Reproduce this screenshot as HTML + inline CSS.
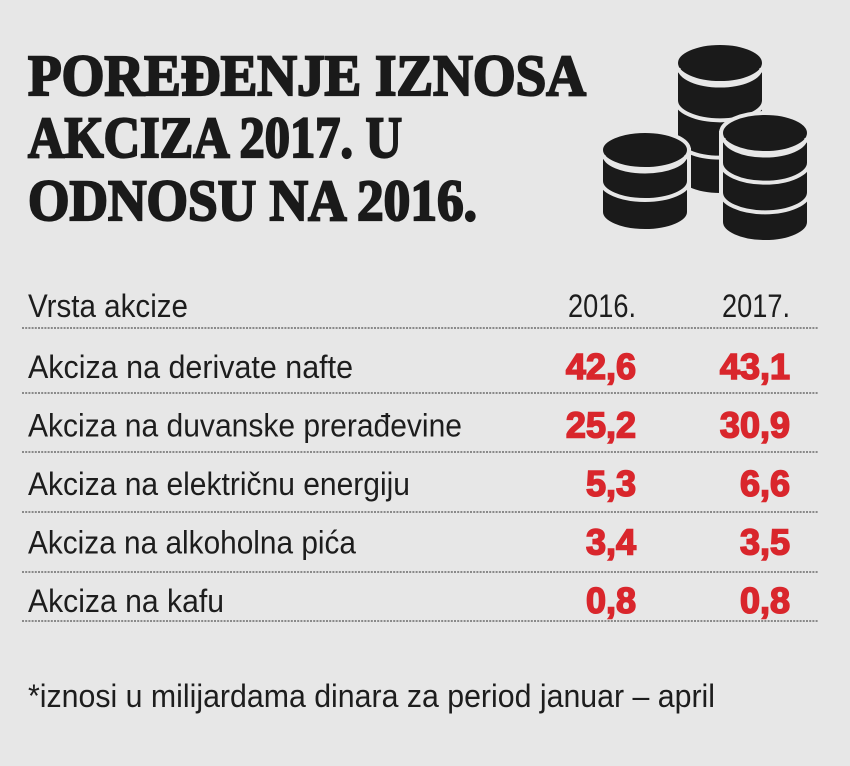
<!DOCTYPE html>
<html><head><meta charset="utf-8"><style>
html,body{margin:0;padding:0;background:#e7e7e7;}
svg{display:block;}
.t{font-family:"Liberation Serif",serif;font-weight:bold;font-size:58px;fill:#1a1a1a;stroke:#1a1a1a;stroke-width:2.2px;}
.r{font-family:"Liberation Sans",sans-serif;font-size:32px;fill:#1d1d1d;}
.v{font-family:"Liberation Sans",sans-serif;font-weight:bold;font-size:36px;fill:#d9262c;stroke:#d9262c;stroke-width:1.6px;}
</style></head><body>
<svg width="850" height="766" viewBox="0 0 850 766">
<rect width="850" height="766" fill="#e7e7e7"/>
<g>
<text class="t" x="28" y="95" textLength="558" lengthAdjust="spacingAndGlyphs">POREĐENJE IZNOSA</text>
<text class="t" x="28" y="157" textLength="374" lengthAdjust="spacingAndGlyphs">AKCIZA 2017. U</text>
<text class="t" x="28" y="220" textLength="449" lengthAdjust="spacingAndGlyphs">ODNOSU NA 2016.</text>
</g>
<g id="coins"></g>
<g id="table"></g>
<text class="r" x="28" y="707" textLength="687" lengthAdjust="spacingAndGlyphs">*iznosi u milijardama dinara za period januar – april</text>
</svg>
<script>
const NS="http://www.w3.org/2000/svg";
const categories=["Akciza na derivate nafte","Akciza na duvanske prerađevine","Akciza na električnu energiju","Akciza na alkoholna pića","Akciza na kafu"];
const values2016=[42.6,25.2,5.3,3.4,0.8];
const values2017=[43.1,30.9,6.6,3.5,0.8];
const years=["2016.","2017."];
const labelWidths=[325,434,382,328,196];
function mk(tag,attrs,parent){const e=document.createElementNS(NS,tag);for(const k in attrs)e.setAttribute(k,attrs[k]);parent.appendChild(e);return e;}
const fmt=v=>v.toFixed(1).replace('.',',');
const tbl=document.getElementById('table');
const rowY=i=>378+i*58.5;
const lineY=[328,393,452,512,572,621];
lineY.forEach((y,i)=>{const l=mk('line',{x1:22,x2:818,y1:y,y2:y,stroke:'#8a8a8a','stroke-width':2,'stroke-dasharray':'2 1.2'},tbl);

});
let h=mk('text',{class:'r',x:28,y:317,textLength:160,lengthAdjust:'spacingAndGlyphs'},tbl);h.textContent='Vrsta akcize';


[636,790].forEach((x,j)=>{const t=mk('text',{class:'r',x:x,y:317,'text-anchor':'end',textLength:68,lengthAdjust:'spacingAndGlyphs'},tbl);t.textContent=years[j];

});
categories.forEach((c,i)=>{const y=rowY(i);
const t=mk('text',{class:'r',x:28,y:y,textLength:labelWidths[i],lengthAdjust:'spacingAndGlyphs'},tbl);t.textContent=c;


const a=mk('text',{class:'v',x:636,y:y+1,'text-anchor':'end'},tbl);a.textContent=fmt(values2016[i]);


const b=mk('text',{class:'v',x:790,y:y+1,'text-anchor':'end'},tbl);b.textContent=fmt(values2017[i]);

});
const cg=document.getElementById('coins');
function stack(cx,top,bottom,n,rx,ry){
 const g=mk('g',{},cg);
 mk('path',{d:`M${cx-rx},${top} L${cx-rx},${bottom} A${rx},${ry} 0 0 0 ${cx+rx},${bottom} L${cx+rx},${top} Z`,fill:'#1a1a1a',stroke:'#e7e7e7','stroke-width':4},g);
 mk('ellipse',{cx:cx,cy:top,rx:rx,ry:ry,fill:'#1a1a1a',stroke:'#e7e7e7','stroke-width':4},g);
 const step=(bottom-top)/n;
 for(let k=1;k<n;k++){const y=top+k*step;mk('path',{d:`M${cx-rx},${y} A${rx},${ry} 0 0 0 ${cx+rx},${y}`,fill:'none',stroke:'#e7e7e7','stroke-width':4},g);}
 mk('path',{d:`M${cx-rx+3},${top+5} A${rx-3},${ry-2} 0 0 0 ${cx+rx-3},${top+5}`,fill:'none',stroke:'#e7e7e7','stroke-width':3},g);
}
stack(720,63,175,3,44,20);
stack(645,150,212,2,44,19);
stack(765,133,222,3,44,20);
</script>
</body></html>
